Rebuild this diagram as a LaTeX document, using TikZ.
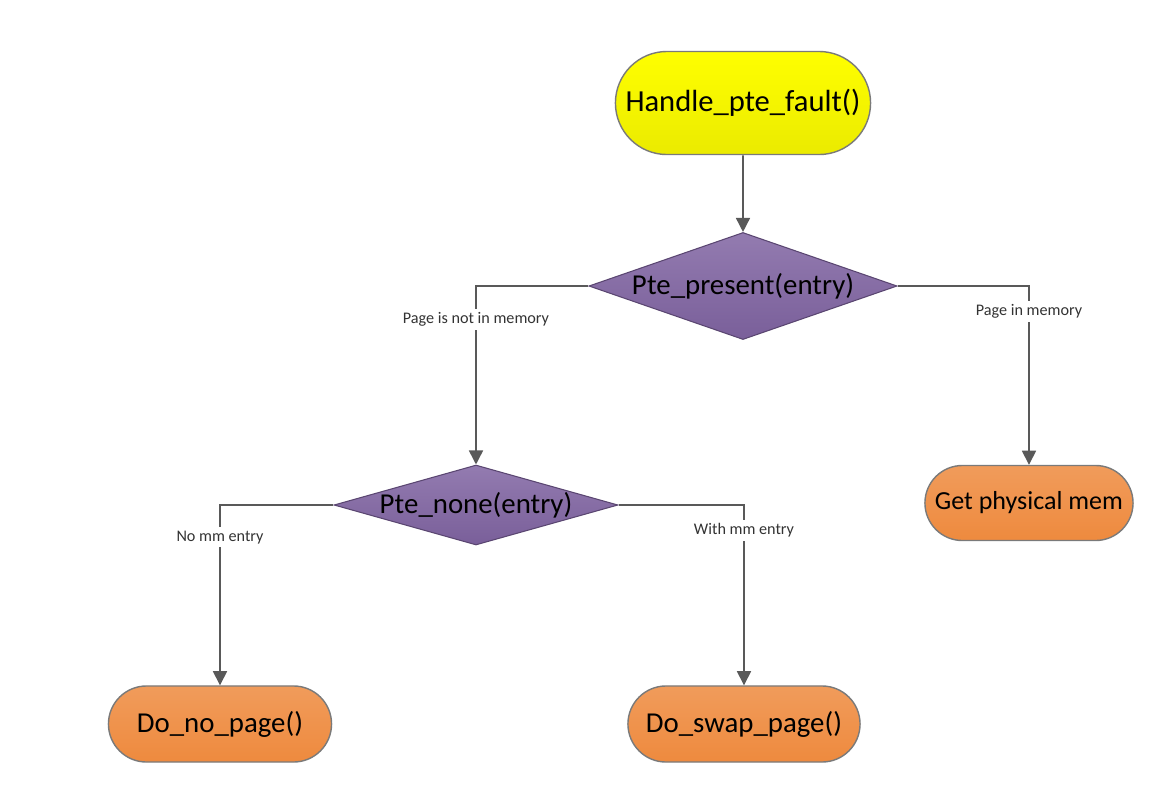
\documentclass[tikz,border=0pt]{standalone}
\usepackage{fontspec}
\setmainfont{Carlito}
\usetikzlibrary{shapes.geometric,shapes.misc,arrows.meta}
\definecolor{trait}{HTML}{595959}
\definecolor{jaune}{HTML}{FFFF00}
\definecolor{violet}{HTML}{8064A2}
\definecolor{orange}{HTML}{EE8A3E}
\tikzset{
  bloc/.style={rounded rectangle, draw=trait!80, line width=0.4pt, inner sep=0pt,
    font=\fontsize{8.2}{10}\selectfont},
  test/.style={diamond, draw=violet!70!black, line width=0.3pt, inner sep=0pt,
    top color=violet!85!white, bottom color=violet!95!black,
    font=\fontsize{8.2}{10}\selectfont},
  fleche/.style={draw=trait, line width=0.45pt, -{Triangle[length=4pt,width=4pt]}},
  etiq/.style={fill=white, inner sep=1pt, text=black!80, font=\fontsize{4.6}{5}\selectfont}
}
\begin{document}
\begin{tikzpicture}[x=0.01cm, y=0.01cm]
  \useasboundingbox (0,0) rectangle (1156,-787);

  % Les noeuds
  \node[bloc, minimum width=2.55cm, minimum height=1.03cm, top color=jaune, bottom color=jaune!92!black,
    font=\fontsize{8.7}{10}\selectfont] (fault) at (743,-103) {Handle\_pte\_fault()};
  \node[test, aspect=2.88, minimum width=3.08cm, minimum height=1.07cm] (present) at (743,-286) {Pte\_present(entry)};
  \node[test, aspect=3.55, minimum width=2.77cm, minimum height=0.78cm] (none) at (476,-505) {Pte\_none(entry)};
  \node[bloc, minimum width=2.08cm, minimum height=0.75cm, top color=orange!85!white, bottom color=orange,
    font=\fontsize{7.4}{9}\selectfont] (phys) at (1029,-503) {Get physical mem};
  \node[bloc, minimum width=2.23cm, minimum height=0.76cm, top color=orange!85!white, bottom color=orange]
    (nopage) at (220,-724) {Do\_no\_page()};
  \node[bloc, minimum width=2.32cm, minimum height=0.76cm, top color=orange!85!white, bottom color=orange]
    (swap) at (744,-724) {Do\_swap\_page()};

  % Les flèches
  \draw[fleche] (fault) -- (present);
  \draw[fleche] (present.west) -| node[etiq, pos=0.594] {Page is not in memory} (none.north);
  \draw[fleche] (present.east) -| node[etiq, pos=0.57] {Page in memory} (phys.north);
  \draw[fleche] (none.west) -| node[etiq, pos=0.59] {No mm entry} (nopage.north);
  \draw[fleche] (none.east) -| node[etiq, pos=0.57] {With mm entry} (swap.north);
\end{tikzpicture}
\end{document}
